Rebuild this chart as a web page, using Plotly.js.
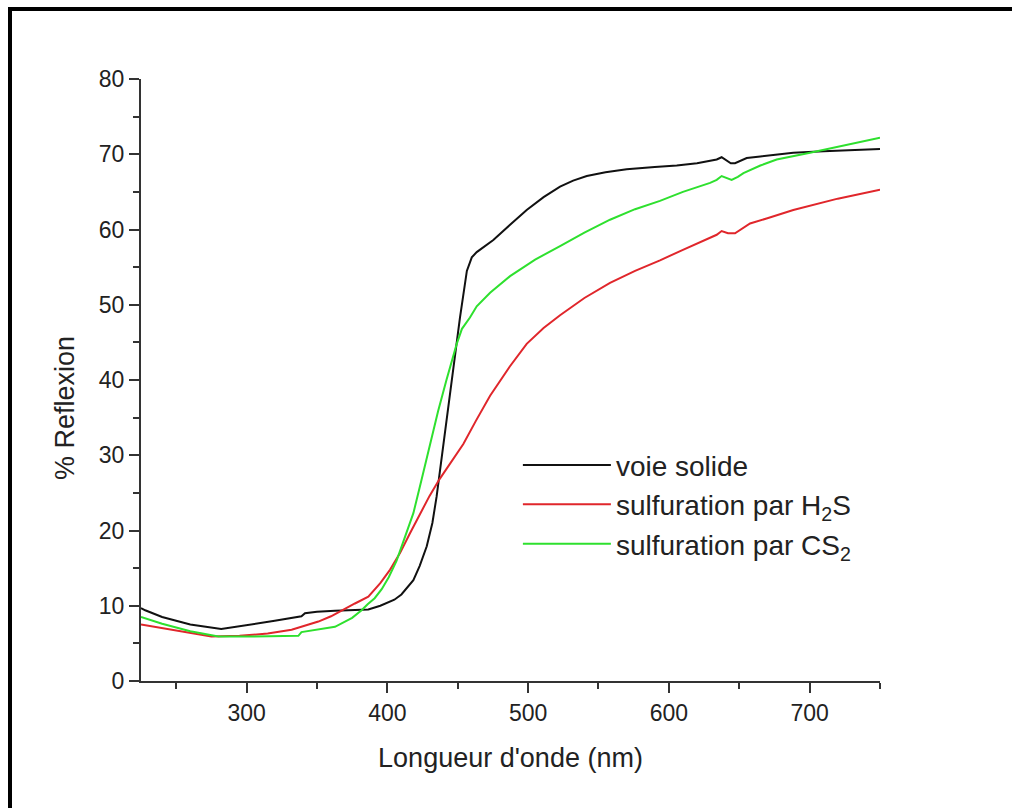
<!DOCTYPE html>
<html>
<head>
<meta charset="utf-8">
<script src="https://cdn.plot.ly/plotly-3.0.1.min.js"></script>
<style>
  html, body { margin: 0; padding: 0; background: #fff; overflow: hidden; }
  #wrap { position: relative; width: 1012px; height: 808px; overflow: hidden; }
  #chart { position: absolute; left: 0; top: 0; width: 1012px; height: 808px; }
  #frame { position: absolute; left: 8px; top: 7px; width: 1000px; height: 797px;
           border-left: 4px solid #000; border-top: 4px solid #000; border-bottom: 2px solid #888;
           pointer-events: none; }
</style>
</head>
<body>
<div id="wrap">
  <div id="chart"></div>
  <div id="frame"></div>
</div>
<script>
// Wavelength (nm) and % reflexion
const solideX = [225, 228, 240, 260, 282, 300, 320, 339, 341.5, 350, 362.8, 386.5, 395, 405, 410, 418.5, 423, 428, 432, 435, 438, 441, 444, 447, 451.6, 456.5, 460, 463.5, 469, 475.3, 487, 499, 511, 522.7, 532, 541.7, 555, 570, 590, 605.6, 620, 629.3, 634, 637.5, 641, 644, 647, 651, 655.3, 665, 688.4, 710, 730, 750];
const solideY = [9.7, 9.4, 8.5, 7.5, 6.9, 7.4, 8.0, 8.6, 9.0, 9.2, 9.35, 9.5, 10.0, 10.8, 11.5, 13.4, 15.3, 17.9, 21.0, 24.5, 28.8, 33.4, 37.8, 42.2, 48.3, 54.5, 56.3, 57.0, 57.8, 58.6, 60.6, 62.6, 64.3, 65.7, 66.5, 67.1, 67.6, 68.0, 68.3, 68.5, 68.8, 69.1, 69.3, 69.6, 69.2, 68.8, 68.8, 69.1, 69.5, 69.7, 70.2, 70.4, 70.6, 70.7];

const h2sX = [225, 240, 260, 275, 295, 315, 332, 345, 351, 360, 367.6, 377, 386.5, 395, 402, 409, 416, 423, 430, 437, 445, 454, 463, 473, 487, 499, 511, 522.7, 540, 558.2, 576, 593.7, 610, 629.3, 634, 637.5, 642, 647, 652, 657.7, 670, 688.4, 720, 750];
const h2sY = [7.5, 7.0, 6.3, 5.9, 6.0, 6.3, 6.8, 7.5, 7.9, 8.6, 9.4, 10.3, 11.2, 13.0, 14.8, 17.0, 19.6, 22.2, 24.6, 26.8, 29.0, 31.5, 34.6, 37.9, 41.8, 44.8, 46.9, 48.6, 50.9, 52.9, 54.5, 55.9, 57.3, 58.9, 59.3, 59.8, 59.5, 59.5, 60.1, 60.8, 61.5, 62.6, 64.1, 65.3];

const cs2X = [225, 240, 260, 280, 300, 320, 336.8, 339, 350, 362.8, 375, 381.7, 386, 391, 396, 401, 406.6, 412, 418.5, 424, 430.3, 436, 442, 446, 449.3, 453, 458.7, 463.5, 473, 487.2, 505, 522.7, 540, 558.2, 576, 593.7, 610, 629.3, 634, 637.5, 641, 644.6, 649, 653, 665, 676.6, 700.3, 725, 750];
const cs2Y = [8.5, 7.6, 6.6, 5.9, 5.9, 5.9, 6.0, 6.5, 6.8, 7.2, 8.4, 9.4, 10.2, 11.0, 12.2, 13.8, 16.0, 18.8, 22.3, 26.5, 31.5, 35.8, 40.0, 42.8, 44.8, 46.8, 48.3, 49.8, 51.6, 53.8, 56.0, 57.8, 59.6, 61.3, 62.7, 63.8, 65.0, 66.2, 66.6, 67.1, 66.8, 66.6, 67.0, 67.5, 68.5, 69.3, 70.2, 71.2, 72.2];

const seriesNames = ['voie solide', 'sulfuration par H<sub>2</sub>S', 'sulfuration par CS<sub>2</sub>'];
const xTicks = [300, 400, 500, 600, 700];
const yTicks = [0, 10, 20, 30, 40, 50, 60, 70, 80];
const xTitle = "Longueur d'onde (nm)";
const yTitle = '% Reflexion';

const FONT = 'Liberation Sans, Arial, sans-serif';
const TXT = '#222';

const traces = [
  {x: solideX, y: solideY, name: seriesNames[0], mode: 'lines', line: {color: '#111', width: 2}, legendgroup: 'a'},
  {x: h2sX, y: h2sY, name: seriesNames[1], mode: 'lines', line: {color: '#e0262b', width: 2}, legendgroup: 'b'},
  {x: cs2X, y: cs2Y, name: seriesNames[2], mode: 'lines', line: {color: '#2ee02e', width: 2}, legendgroup: 'c'}
];

const axisCommon = {
  showline: true, linecolor: '#333', linewidth: 2,
  ticks: 'outside', ticklen: 10, tickwidth: 2, tickcolor: '#333',
  showgrid: false, zeroline: false,
  tickfont: {family: FONT, size: 23, color: TXT}
};

const layout = {
  width: 1012, height: 808,
  margin: {l: 141, r: 132, t: 79, b: 127},
  paper_bgcolor: '#fff', plot_bgcolor: '#fff',
  showlegend: true,
  legend: {
    x: 0.51, y: 0.40, xanchor: 'left', yanchor: 'top',
    bgcolor: 'rgba(0,0,0,0)', borderwidth: 0,
    font: {family: FONT, size: 28, color: TXT},
    itemwidth: 88, tracegroupgap: 0
  },
  xaxis: Object.assign({}, axisCommon, {
    range: [225, 750], tickvals: xTicks, ticktext: xTicks.map(String),
    minor: {dtick: 50, tick0: 250, ticks: 'outside', ticklen: 6, tickwidth: 2, tickcolor: '#333'},
    title: {text: xTitle, font: {family: FONT, size: 27, color: TXT}, standoff: 24}
  }),
  yaxis: Object.assign({}, axisCommon, {
    range: [0, 80], tickvals: yTicks, ticktext: yTicks.map(String),
    minor: {dtick: 5, tick0: 5, ticks: 'outside', ticklen: 6, tickwidth: 2, tickcolor: '#333'}
  }),
  annotations: [{
    text: yTitle, textangle: -90, showarrow: false,
    xref: 'paper', yref: 'paper', x: (65 - 141) / 739, y: (681 - 408) / 602,
    xanchor: 'center', yanchor: 'middle',
    font: {family: FONT, size: 27, color: TXT}
  }]
};

Plotly.newPlot('chart', traces, layout, {displayModeBar: false, staticPlot: true});
</script>
</body>
</html>
